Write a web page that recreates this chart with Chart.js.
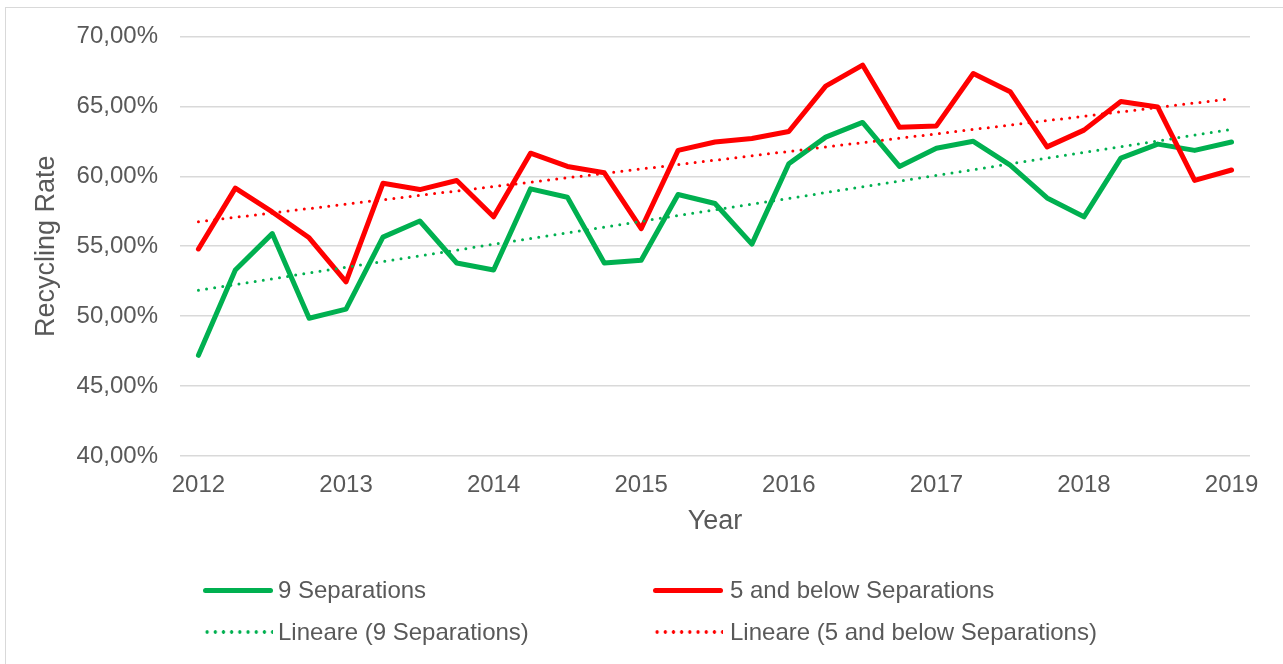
<!DOCTYPE html>
<html>
<head>
<meta charset="utf-8">
<title>Recycling Rate</title>
<script src="https://cdn.jsdelivr.net/npm/chart.js@4"></script>
<style>
  html, body { margin: 0; padding: 0; background: #fff; overflow: hidden; }
  #wrap { position: relative; width: 1283px; height: 664px; overflow: hidden; }
  #frame { position: absolute; left: 5px; top: 7px; width: 1300px; height: 700px; border: 1px solid #d9d9d9; box-sizing: border-box; }
  #salesChart { position: absolute; left: 0; top: 0; }
  .leg-text { position: absolute; font-family: "Liberation Sans", Arial, sans-serif; font-size: 24px; color: #595959; line-height: 28px; white-space: nowrap; }
  .leg-swatch { position: absolute; width: 70px; }
</style>
</head>
<body>
<div id="wrap">
  <div id="frame"></div>
  <canvas id="salesChart" width="1283" height="664"></canvas>
  <div id="legend"></div>
</div>
<script>
// Year tick labels (one point per quarter, label on the first quarter)
const years = ['2012', '2013', '2014', '2015', '2016', '2017', '2018', '2019'];

// Recycling rate in %, quarterly
const nineSeparations = [47.2, 53.3, 55.9, 49.85, 50.5, 55.65, 56.8, 53.8, 53.3, 59.1, 58.5, 53.8, 54.0, 58.7, 58.05,
    55.15, 60.9, 62.8, 63.85, 60.7, 62.0, 62.5, 60.8, 58.45, 57.1, 61.3, 62.3, 61.85, 62.45];
const fiveAndBelow = [54.8, 59.15, 57.45, 55.6, 52.45, 59.5, 59.05, 59.7, 57.1, 61.65, 60.7, 60.25, 56.25, 61.85, 62.45,
    62.7, 63.2, 66.45, 67.95, 63.5, 63.6, 67.35, 66.05, 62.1, 63.3, 65.35, 64.95, 59.7, 60.45];

// Linear trend lines, start and end value
const trendNine = [51.85, 63.35];
const trendFive = [56.75, 65.55];

const seriesNames = ['9 Separations', '5 and below Separations', 'Lineare (9 Separations)', 'Lineare (5 and below Separations)'];

const GREEN = '#00B050';
const RED = '#FF0000';
const TEXT = '#595959';
const FONT = '"Liberation Sans", Arial, sans-serif';

// category labels: year on first quarter, blank otherwise
const labels = years.flatMap((y, k) => k < years.length - 1 ? [y, '', '', ''] : [y]);

// put the trend start/end on the first and last category
function trendData(ends) {
    return labels.map((_, i) => i === 0 ? ends[0] : (i === labels.length - 1 ? ends[1] : null));
}

function generateChart() {
    const ctx = document.getElementById('salesChart').getContext('2d');
    Chart.defaults.font.family = FONT;
    Chart.defaults.color = TEXT;

    const chart = new Chart(ctx, {
        type: 'line',
        data: {
            labels: labels,
            datasets: [
                { label: seriesNames[0], data: nineSeparations, borderColor: GREEN, backgroundColor: GREEN,
                  borderWidth: 5, pointRadius: 0, borderJoinStyle: 'round', borderCapStyle: 'round', order: 4 },
                { label: seriesNames[1], data: fiveAndBelow, borderColor: RED, backgroundColor: RED,
                  borderWidth: 5, pointRadius: 0, borderJoinStyle: 'round', borderCapStyle: 'round', order: 3 },
                { label: seriesNames[2], data: trendData(trendNine), borderColor: GREEN, backgroundColor: GREEN,
                  borderWidth: 3, borderDash: [0, 8.2], borderCapStyle: 'round', pointRadius: 0, spanGaps: true, order: 2 },
                { label: seriesNames[3], data: trendData(trendFive), borderColor: RED, backgroundColor: RED,
                  borderWidth: 3, borderDash: [0, 8.2], borderCapStyle: 'round', pointRadius: 0, spanGaps: true, order: 1 }
            ]
        },
        options: {
            responsive: false,
            animation: false,
            devicePixelRatio: 1,
            layout: { padding: { left: 0, top: 36, right: 33, bottom: 126 } },
            plugins: { legend: { display: false }, tooltip: { enabled: false } },
            scales: {
                x: {
                    type: 'category',
                    offset: true,
                    grid: { display: false },
                    border: { display: false },
                    ticks: { autoSkip: false, maxRotation: 0, color: TEXT, font: { size: 24 }, padding: 7 },
                    title: { display: true, text: 'Year', color: TEXT, font: { size: 27 }, padding: { top: 0, bottom: 0 } },
                    afterFit: function (scale) { scale.height = 82; }
                },
                y: {
                    min: 40,
                    max: 70,
                    grid: { color: '#d9d9d9', lineWidth: 1.5, drawTicks: false },
                    border: { display: false },
                    ticks: {
                        stepSize: 5, padding: 22, color: TEXT, font: { size: 24 },
                        callback: v => v.toFixed(2).replace('.', ',') + '%'
                    },
                    title: { display: true, text: 'Recycling Rate', color: TEXT, font: { size: 27 }, padding: { top: 30, bottom: 0 } },
                    afterFit: function (scale) { scale.width = 180; }
                }
            }
        }
    });
    return chart;
}

// legend drawn as html, two columns like the original
function buildLegend(chart) {
    const box = document.getElementById('legend');
    const swatchLeft = [203, 653];
    const textLeft = [278, 730];
    const rowY = [590, 632];
    chart.data.datasets.forEach((ds, i) => {
        const col = i % 2, row = Math.floor(i / 2);
        const sw = document.createElement('div');
        sw.className = 'leg-swatch';
        sw.style.left = swatchLeft[col] + 'px';
        if (ds.borderDash) {
            sw.style.height = '4px';
            sw.style.top = (rowY[row] - 2) + 'px';
            sw.style.background = 'radial-gradient(circle, ' + ds.borderColor + ' 1.5px, transparent 2px) 0 0 / 8.2px 4px repeat-x';
        } else {
            sw.style.height = '5px';
            sw.style.top = (rowY[row] - 2.5) + 'px';
            sw.style.background = ds.borderColor;
            sw.style.borderRadius = '3px';
        }
        box.appendChild(sw);
        const t = document.createElement('div');
        t.className = 'leg-text';
        t.style.left = textLeft[col] + 'px';
        t.style.top = (rowY[row] - 14) + 'px';
        t.textContent = ds.label;
        box.appendChild(t);
    });
}

document.addEventListener('DOMContentLoaded', function () {
    const chart = generateChart();
    buildLegend(chart);
});
</script>
</body>
</html>
